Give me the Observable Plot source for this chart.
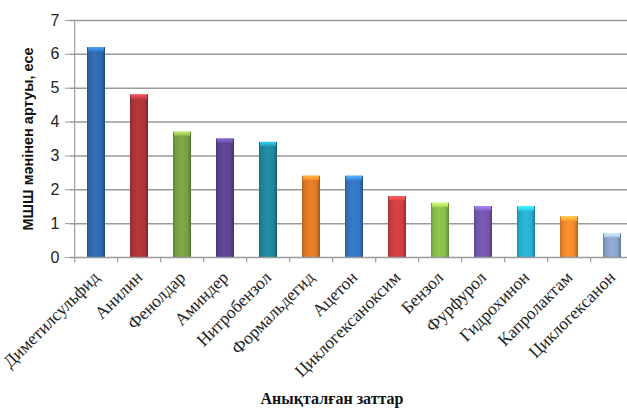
<!DOCTYPE html>
<html>
<head>
<meta charset="utf-8">
<script src="https://cdn.jsdelivr.net/npm/d3@7"></script>
<script src="https://cdn.jsdelivr.net/npm/@observablehq/plot@0.6"></script>
<style>
  html, body { margin: 0; padding: 0; background: #fff; overflow: hidden; }
  #chart svg { display: block; overflow: hidden; }
</style>
</head>
<body>
<div id="chart"></div>
<script>
const categories = ["Диметилсульфид", "Анилин", "Фенолдар", "Аминдер", "Нитробензол", "Формальдегид", "Ацетон", "Циклогексаноксим", "Бензол", "Фурфурол", "Гидрохинон", "Капролактам", "Циклогексанон"];
const values = [6.2, 4.8, 3.7, 3.5, 3.4, 2.4, 2.4, 1.8, 1.6, 1.5, 1.5, 1.2, 0.7];
const palette = ["#2f6aaf", "#ad3538", "#79a043", "#5d4590", "#21879e", "#e07a26", "#3476c2", "#cf3e42", "#8bbd4c", "#7556ad", "#28b0d0", "#f28a2c", "#8aa4cb"];
const yTicks = [0, 1, 2, 3, 4, 5, 6, 7];
const yLabel = "МШШ мәнінен артуы, есе";
const xLabel = "Анықталған заттар";

const data = categories.map((c, i) => ({c, v: values[i], g: `url(#bar${i})`, t: `url(#top${i})`}));
const step = (637 - 70) / categories.length;

const plot = Plot.plot({
  width: 627,
  height: 409,
  marginLeft: 70,
  marginTop: 20,
  marginBottom: 152,
  marginRight: 0,
  x: {domain: categories, range: [70, 637], paddingInner: 0.59, paddingOuter: 0.295, axis: null},
  y: {domain: [0, 7], range: [257, 20], axis: null},
  color: {type: "identity"},
  style: {background: "#fff"},
  marks: [
    Plot.ruleY(yTicks.slice(1), {stroke: "#9a9a9a", strokeWidth: 1.5}),
    Plot.barY(data, {x: "c", y: "v", fill: "g"}),
    Plot.barY(data, {x: "c", y1: d => d.v - 0.13, y2: "v", fill: "t", insetLeft: 1, insetRight: 1}),
    Plot.ruleY([0], {stroke: "#9a9a9a", strokeWidth: 1.5}),
    Plot.ruleX([categories[0]], {x: d => d, y1: 0, y2: 7, dx: -step / 2, stroke: "#9a9a9a", strokeWidth: 1.2}),
    Plot.ruleX(categories, {x: d => d, y1: 0, y2: 0.16, dy: 5.4, dx: -step / 2, stroke: "#9a9a9a", strokeWidth: 1.2}),
    Plot.axisY({ticks: yTicks, tickFormat: d3.format("d"), tickSize: 5, tickPadding: 6, stroke: "#9a9a9a", fill: "#222", fontSize: 16, fontFamily: "Liberation Sans, Arial, sans-serif", label: null}),
    Plot.axisX({tickSize: 0, tickPadding: 9, dy: 8, tickRotate: -45, fill: "#222", fontSize: 17.5, fontFamily: "Liberation Serif, Times New Roman, serif", label: null}),
    Plot.text([yLabel], {frameAnchor: "left", textAnchor: "middle", rotate: -90, dx: -42, fontSize: 14.5, fontWeight: "bold", fontFamily: "Liberation Sans, Arial, sans-serif", fill: "#111"}),
    Plot.text([xLabel], {frameAnchor: "bottom", dy: 146, dx: -17, fontSize: 16, fontWeight: "bold", fontFamily: "Liberation Serif, Times New Roman, serif", fill: "#111"})
  ]
});

// gradient definitions for the shaded bars
const ns = "http://www.w3.org/2000/svg";
const defs = document.createElementNS(ns, "defs");
palette.forEach((col, i) => {
  const base = d3.color(col);
  const g = document.createElementNS(ns, "linearGradient");
  g.setAttribute("id", `bar${i}`);
  g.setAttribute("x1", "0"); g.setAttribute("x2", "1"); g.setAttribute("y1", "0"); g.setAttribute("y2", "0");
  [[0, base.darker(0.7)], [0.12, base.darker(0.15)], [0.45, base.brighter(0.15)], [0.8, base], [1, base.darker(1.0)]].forEach(([o, c]) => {
    const s = document.createElementNS(ns, "stop");
    s.setAttribute("offset", o);
    s.setAttribute("stop-color", c.formatHex());
    g.appendChild(s);
  });
  defs.appendChild(g);
  const t = document.createElementNS(ns, "linearGradient");
  t.setAttribute("id", `top${i}`);
  t.setAttribute("x1", "0"); t.setAttribute("x2", "0"); t.setAttribute("y1", "0"); t.setAttribute("y2", "1");
  [[0, base.brighter(1.2)], [1, base.brighter(0.3)]].forEach(([o, c]) => {
    const s = document.createElementNS(ns, "stop");
    s.setAttribute("offset", o);
    s.setAttribute("stop-color", c.formatHex());
    t.appendChild(s);
  });
  defs.appendChild(t);
});
plot.insertBefore(defs, plot.firstChild);
document.getElementById("chart").appendChild(plot);
</script>
</body>
</html>
